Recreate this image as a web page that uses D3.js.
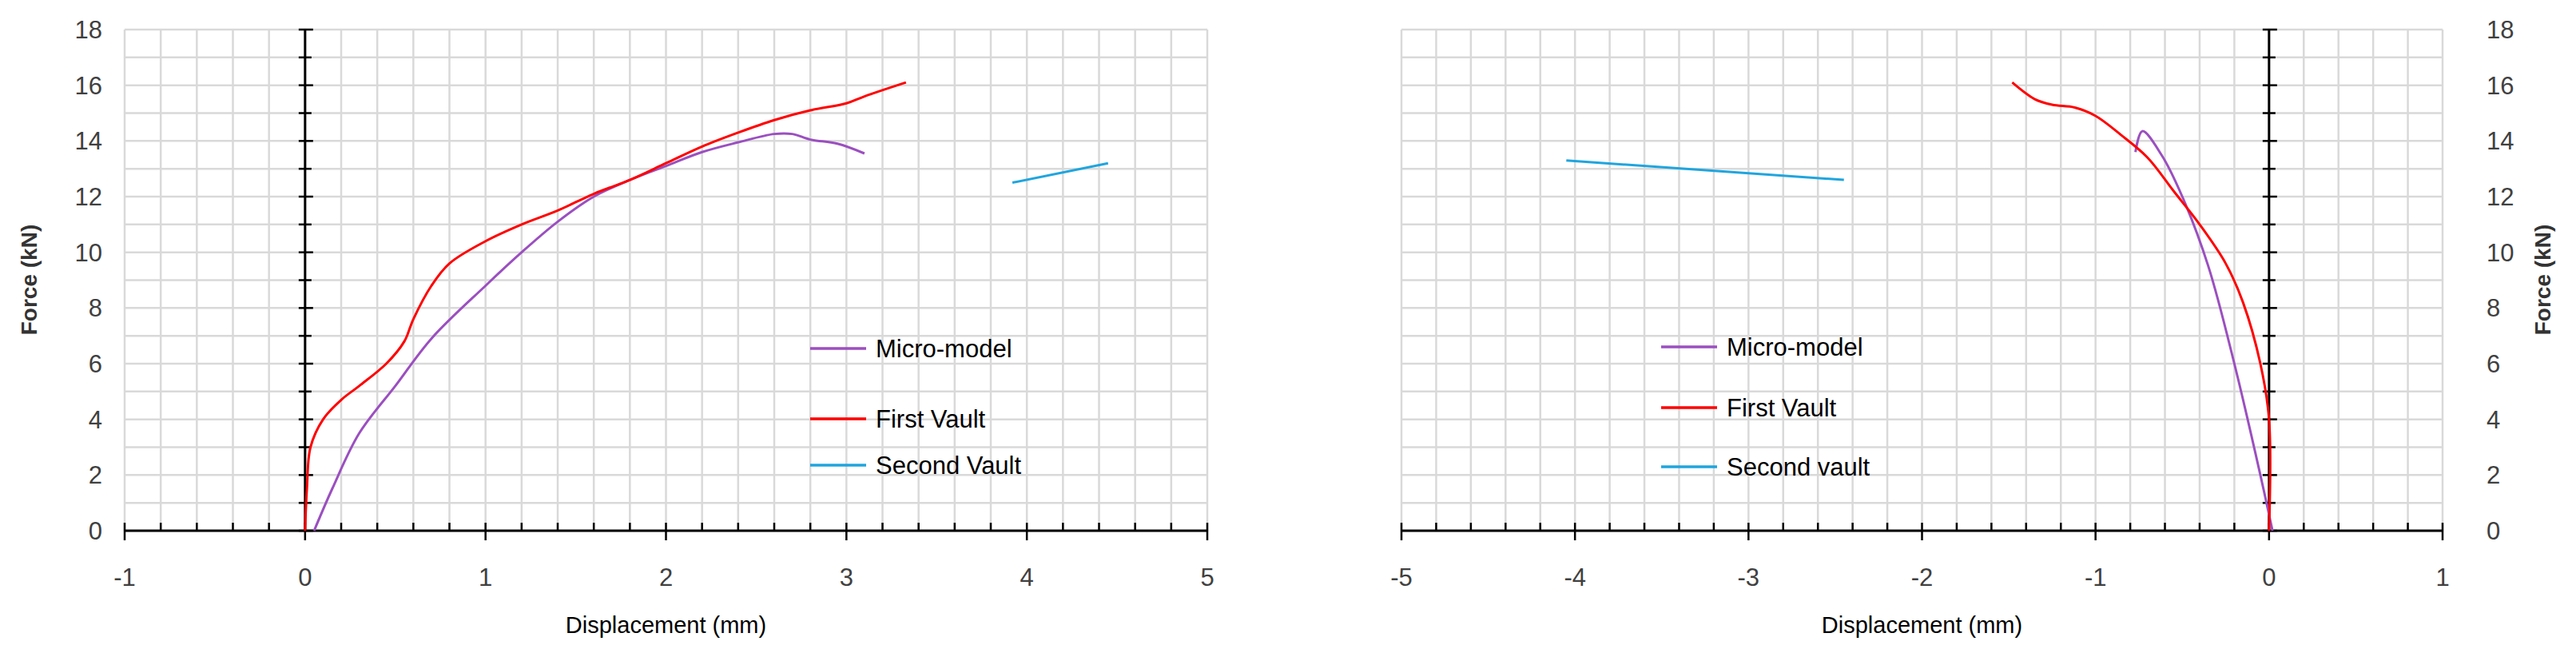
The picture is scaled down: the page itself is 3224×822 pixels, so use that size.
<!DOCTYPE html><html><head><meta charset="utf-8">
<script src="https://cdn.jsdelivr.net/npm/d3@7"></script>
<style>body{margin:0;background:#fff}text{font-family:"Liberation Sans",Arial,sans-serif}</style></head><body>
<svg id="c" width="3224" height="822"></svg>
<script>
const leftMicro=[[0.05,0],[0.15,1.5],[0.3,3.5],[0.5,5.2],[0.7,6.9],[1.0,8.8],[1.2,10],[1.4,11.1],[1.6,12],[1.8,12.6],[2.0,13.1],[2.2,13.6],[2.4,13.95],[2.6,14.25],[2.7,14.25],[2.8,14.05],[2.95,13.9],[3.1,13.55]];
const leftFirst=[[0,0],[0.01,1.5],[0.03,3],[0.1,4],[0.2,4.7],[0.3,5.2],[0.45,6],[0.55,6.8],[0.6,7.6],[0.7,8.8],[0.8,9.6],[1.0,10.4],[1.2,11],[1.4,11.5],[1.6,12.1],[1.8,12.6],[2.0,13.2],[2.2,13.8],[2.4,14.3],[2.6,14.75],[2.8,15.1],[3.0,15.35],[3.1,15.6],[3.33,16.1]];
const leftSecond=[[3.92,12.5],[4.45,13.2]];
const rightMicro=[[0.02,0],[-0.05,2],[-0.2,6],[-0.35,9.5],[-0.5,12],[-0.62,13.5],[-0.73,14.35],[-0.77,13.6]];
const rightFirst=[[0,0],[0,4],[-0.05,6],[-0.15,8.2],[-0.25,9.6],[-0.4,11],[-0.55,12.2],[-0.7,13.4],[-0.85,14.2],[-1.0,14.9],[-1.12,15.2],[-1.25,15.3],[-1.35,15.5],[-1.48,16.1]];
const rightSecond=[[-4.05,13.3],[-2.45,12.6]];
const yTicks=[0,2,4,6,8,10,12,14,16,18];
const leftLegend=["Micro-model","First Vault","Second Vault"];
const rightLegend=["Micro-model","First Vault","Second vault"];
const colors=["#9b4fc0","#ff0000","#1fa5de"];

const svg=d3.select("#c");
function panel(o){
  const x=d3.scaleLinear().domain(o.xd).range(o.xr), y=d3.scaleLinear().domain([0,18]).range([664,37]);
  const g=svg.append("g");
  const xg=d3.range(o.xd[0],o.xd[1]+0.001,0.2);
  g.selectAll(".vg").data(xg).join("line").attr("x1",d=>x(d)).attr("x2",d=>x(d)).attr("y1",y(18)).attr("y2",y(0)).attr("stroke","#d9d9d9").attr("stroke-width",2.5);
  g.selectAll(".hg").data(d3.range(0,19,1)).join("line").attr("x1",x(o.xd[0])).attr("x2",x(o.xd[1])).attr("y1",d=>y(d)).attr("y2",d=>y(d)).attr("stroke","#d9d9d9").attr("stroke-width",2.5);
  g.append("line").attr("x1",x(o.xd[0])).attr("x2",x(o.xd[1])).attr("y1",y(0)).attr("y2",y(0)).attr("stroke","#000").attr("stroke-width",3);
  g.selectAll(".xt").data(xg).join("line").attr("x1",d=>x(d)).attr("x2",d=>x(d)).attr("y1",y(0)-10).attr("y2",d=>Math.abs(d-Math.round(d))<1e-6?y(0)+12:y(0)).attr("stroke","#000").attr("stroke-width",2.5);
  g.append("line").attr("x1",x(0)).attr("x2",x(0)).attr("y1",y(18)).attr("y2",y(0)).attr("stroke","#000").attr("stroke-width",3);
  g.selectAll(".yt").data(d3.range(0,19,1)).join("line").attr("x1",x(0)-8).attr("x2",d=>x(0)+(d%2==0?10:8)).attr("y1",d=>y(d)).attr("y2",d=>y(d)).attr("stroke","#000").attr("stroke-width",2.5);
  g.selectAll(".xl").data(d3.range(o.xd[0],o.xd[1]+1)).join("text").attr("x",d=>x(d)).attr("y",733).attr("text-anchor","middle").attr("font-size",31).attr("fill","#404040").text(d=>d);
  g.selectAll(".yl").data(yTicks).join("text").attr("x",o.ylx).attr("y",d=>y(d)+11).attr("text-anchor",o.yanchor).attr("font-size",31).attr("fill","#404040").text(d=>d);
  g.append("text").attr("x",(o.xr[0]+o.xr[1])/2).attr("y",792).attr("text-anchor","middle").attr("font-size",29).attr("fill","#000").text("Displacement (mm)");
  g.append("text").attr("transform",`translate(${o.ytx},350) rotate(-90)`).attr("text-anchor","middle").attr("font-size",28).attr("font-weight","bold").attr("fill","#333").text("Force (kN)");
  const line=d3.line().x(d=>x(d[0])).y(d=>y(d[1])).curve(d3.curveCatmullRom);
  o.series.forEach((s,i)=>g.append("path").attr("d",line(s)).attr("fill","none").attr("stroke",colors[i]).attr("stroke-width",3));
  o.legend.forEach((t,i)=>{
    const ly=o.ly[i];
    g.append("line").attr("x1",o.lx).attr("x2",o.lx+70).attr("y1",ly).attr("y2",ly).attr("stroke",colors[i]).attr("stroke-width",3.5);
    g.append("text").attr("x",o.lx+82).attr("y",ly+11).attr("font-size",31).attr("fill","#000").text(t);
  });
}
panel({xd:[-1,5],xr:[156,1511],ylx:128,yanchor:"end",ytx:46,series:[leftMicro,leftFirst,leftSecond],legend:leftLegend,lx:1014,ly:[436,524,582]});
panel({xd:[-5,1],xr:[1754,3057],ylx:3112,yanchor:"start",ytx:3192,series:[rightMicro,rightFirst,rightSecond],legend:rightLegend,lx:2079,ly:[434,510,584]});
</script></body></html>
